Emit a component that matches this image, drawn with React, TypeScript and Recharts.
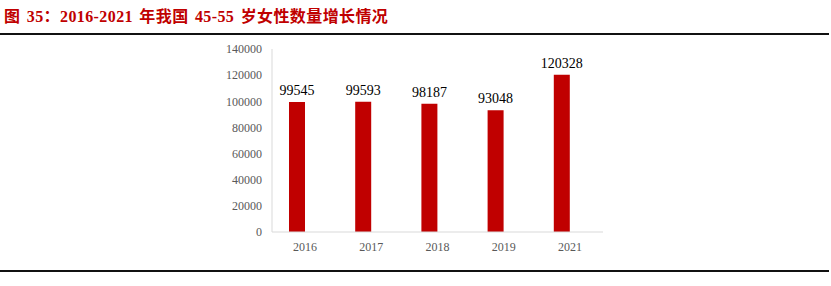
import { BarChart, Bar, XAxis, YAxis, LabelList } from 'recharts';

const years = ['2016', '2017', '2018', '2019', '2021'];
const women = [99545, 99593, 98187, 93048, 120328];
const yTicks = [0, 20000, 40000, 60000, 80000, 100000, 120000, 140000];

const data = years.map((year, i) => ({ year, women: women[i], blank: null }));

const serif = '"Liberation Serif", "Times New Roman", serif';

const App = () => {
  return (
    <div style={{ position: 'absolute', left: 0, top: 0, width: 831, height: 286, background: '#fff', overflow: 'hidden' }}>
      <div
        style={{
          position: 'absolute',
          left: 4,
          top: 3,
          fontFamily: '"Liberation Serif", "Noto Sans CJK SC", serif',
          fontWeight: 'bold',
          fontSize: 16,
          letterSpacing: 0.4,
          wordSpacing: 2,
          color: '#c00000',
          whiteSpace: 'nowrap',
        }}
      >
        图 35：2016-2021 年我国 45-55 岁女性数量增长情况
      </div>
      <div style={{ position: 'absolute', left: 0, top: 33, width: 829, height: 2, background: '#111' }} />
      <div style={{ position: 'absolute', left: 0, top: 270, width: 829, height: 2, background: '#111' }} />
      <div style={{ position: 'absolute', left: 0, top: 0 }}>
        <BarChart
          width={831}
          height={286}
          data={data}
          margin={{ top: 49, right: 228, bottom: 24, left: 212 }}
          barGap={0}
          barSize={16}
        >
          <XAxis
            dataKey="year"
            axisLine={{ stroke: '#d9d9d9' }}
            tickLine={false}
            tickMargin={4}
            height={30}
            tick={{ fontFamily: serif, fontSize: 12, fill: '#595959' }}
          />
          <YAxis
            domain={[0, 140000]}
            ticks={yTicks}
            width={60}
            axisLine={{ stroke: '#d9d9d9' }}
            tickLine={false}
            tickMargin={4}
            tick={{ fontFamily: serif, fontSize: 12, fill: '#595959' }}
          />
          <Bar dataKey="women" fill="#c00000" isAnimationActive={false}>
            <LabelList
              dataKey="women"
              position="top"
              offset={7}
              style={{ fontFamily: serif, fontSize: 14, fill: '#000' }}
            />
          </Bar>
          <Bar dataKey="blank" fill="#ffffff" isAnimationActive={false} />
        </BarChart>
      </div>
    </div>
  );
};

export default App;
